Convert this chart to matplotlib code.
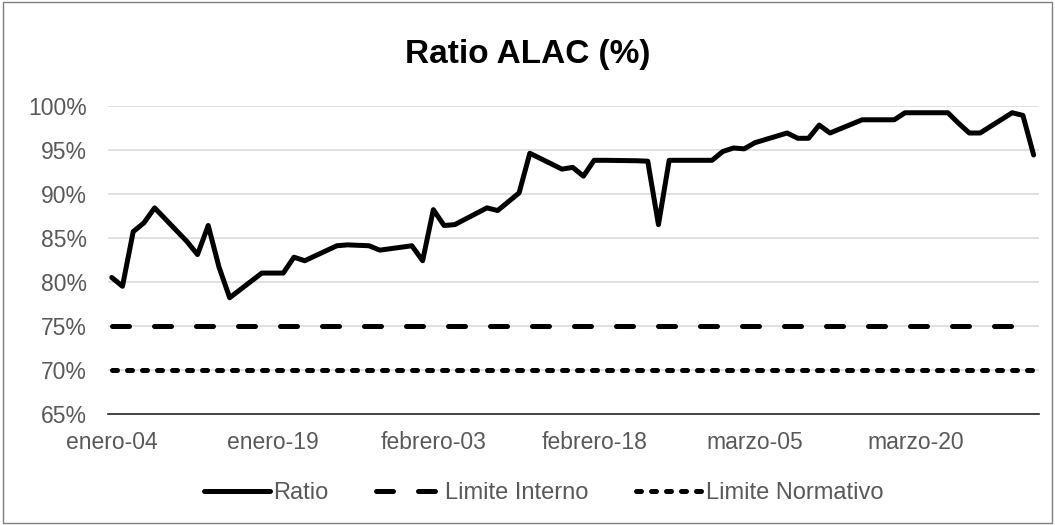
import matplotlib
matplotlib.use("Agg")
import matplotlib.pyplot as plt
import matplotlib.dates as mdates
from matplotlib.ticker import PercentFormatter
from matplotlib.patches import Rectangle
import pandas as pd
import numpy as np

plt.rcParams['font.family'] = ['Liberation Sans', 'DejaVu Sans']

# datos (2021)
fechas = ['2021-01-04', '2021-01-05', '2021-01-06', '2021-01-07', '2021-01-08',
          '2021-01-11', '2021-01-12', '2021-01-13', '2021-01-14', '2021-01-15',
          '2021-01-18', '2021-01-19', '2021-01-20', '2021-01-21', '2021-01-22',
          '2021-01-25', '2021-01-26', '2021-01-27', '2021-01-28', '2021-01-29',
          '2021-02-01', '2021-02-02', '2021-02-03', '2021-02-04', '2021-02-05',
          '2021-02-08', '2021-02-09', '2021-02-10', '2021-02-11', '2021-02-12',
          '2021-02-15', '2021-02-16', '2021-02-17', '2021-02-18', '2021-02-19',
          '2021-02-22', '2021-02-23', '2021-02-24', '2021-02-25', '2021-02-26',
          '2021-03-01', '2021-03-02', '2021-03-03', '2021-03-04', '2021-03-05',
          '2021-03-08', '2021-03-09', '2021-03-10', '2021-03-11', '2021-03-12',
          '2021-03-15', '2021-03-16', '2021-03-17', '2021-03-18', '2021-03-19',
          '2021-03-22', '2021-03-23', '2021-03-24', '2021-03-25', '2021-03-26',
          '2021-03-29', '2021-03-30', '2021-03-31']
ratio = [80.5, 79.5, 85.7, 86.7, 88.4,
         84.6, 83.1, 86.4, 81.7, 78.2,
         81.0, 81.0, 81.0, 82.8, 82.4,
         84.1, 84.2, 84.15, 84.1, 83.6,
         84.1, 82.4, 88.2, 86.4, 86.5,
         88.4, 88.1, 89.1, 90.1, 94.6,
         92.8, 93.0, 92.0, 93.8, 93.8,
         93.75, 93.7, 86.5, 93.8, 93.8,
         93.8, 94.8, 95.2, 95.1, 95.8,
         96.9, 96.3, 96.3, 97.8, 96.9,
         98.4, 98.4, 98.4, 98.4, 99.2,
         99.2, 99.2, 98.0, 96.9, 96.9,
         99.2, 98.9, 94.4]
limite_interno = 75.0
limite_normativo = 70.0

tick_fechas = ['2021-01-04', '2021-01-19', '2021-02-03', '2021-02-18', '2021-03-05', '2021-03-20']
tick_labels = ['enero-04', 'enero-19', 'febrero-03', 'febrero-18', 'marzo-05', 'marzo-20']

x = pd.to_datetime(fechas)
r = np.array(ratio) / 100

gris = '#595959'

fig = plt.figure(figsize=(10.55, 5.25), dpi=100)
ax = fig.add_axes([108/1055, 1 - 414/525, 931/1055, 308.3/525])

ax.plot(x, r, color='black', lw=3.6, solid_joinstyle='round', solid_capstyle='round', label='Ratio')
ax.plot(x, np.full(len(x), limite_interno / 100), color='black', lw=3.6,
        linestyle=(0, (3.4, 5.0)), dash_capstyle='round', label='Limite Interno')
ax.plot(x, np.full(len(x), limite_normativo / 100), color='black', lw=3.6,
        linestyle=(0, (1.0, 2.0)), dash_capstyle='round', label='Limite Normativo')

ax.set_ylim(0.65, 1.0)
ax.set_yticks(np.arange(0.65, 1.001, 0.05))
ax.yaxis.set_major_formatter(PercentFormatter(1.0, decimals=0))
ax.grid(axis='y', color='#D9D9D9', lw=1.1)
ax.set_axisbelow(True)

x0 = mdates.date2num(x[0])
x1 = mdates.date2num(x[-1])
ax.set_xlim(x0 - 0.35, x1 + 0.5)
ax.set_xticks(pd.to_datetime(tick_fechas))
ax.set_xticklabels(tick_labels)

for s in ['top', 'right', 'left']:
    ax.spines[s].set_visible(False)
ax.spines['bottom'].set_color('#262626')
ax.spines['bottom'].set_linewidth(1.2)
ax.tick_params(axis='both', length=0, labelsize=16.5, colors=gris)
ax.tick_params(axis='y', pad=15)
ax.tick_params(axis='x', pad=12)

fig.text(528/1055, 1 - 55/525, 'Ratio ALAC (%)', ha='center', va='center',
         fontsize=24, fontweight='bold', color='black')

leg = fig.legend(loc='center', bbox_to_anchor=(0.515, 1 - 493/525), ncol=3, frameon=False,
                 fontsize=17, handlelength=2.8, columnspacing=2.0, handletextpad=0.15)
for t in leg.get_texts():
    t.set_color(gris)

fig.patches.append(Rectangle((0.003, 0.003), 0.994, 0.994, transform=fig.transFigure,
                             fill=False, edgecolor='#7F7F7F', lw=1))

fig.savefig('out.png', dpi=100)
